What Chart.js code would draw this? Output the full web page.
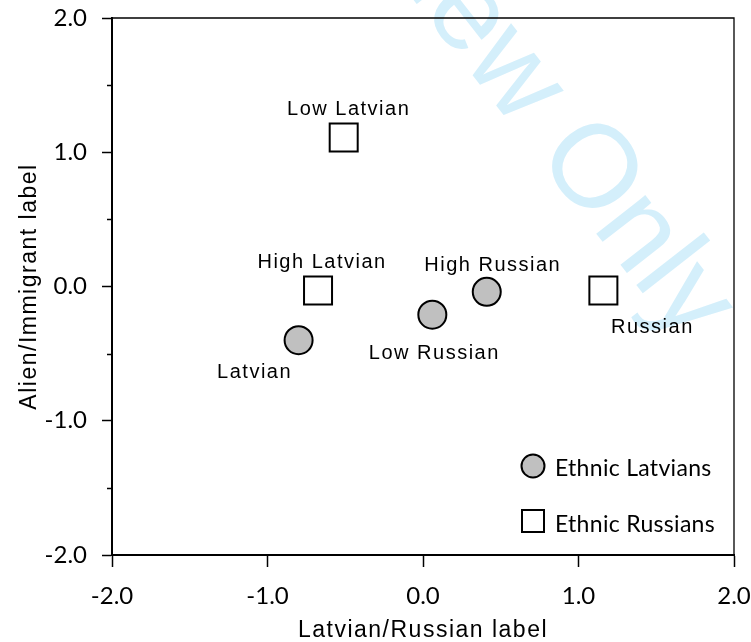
<!DOCTYPE html>
<html>
<head>
<meta charset="utf-8">
<script src="https://cdn.jsdelivr.net/npm/chart.js@4"></script>
<style>
  html, body { margin: 0; padding: 0; background: #fff; }
  canvas { display: block; }
</style>
</head>
<body>
<canvas id="chart" width="751" height="642"></canvas>
<script>
// ── Data ──
const seriesNames = ["Ethnic Latvians", "Ethnic Russians"];

// ethnic Latvian respondents (grey circles)
const latvianNames = ["Latvian", "Low Russian", "High Russian"];
const latvianX = [-0.80, 0.06, 0.41];
const latvianY = [-0.40, -0.21, -0.04];

// ethnic Russian respondents (open squares)
const russianNames = ["Low Latvian", "High Latvian", "Russian"];
const russianX = [-0.51, -0.675, 1.16];
const russianY = [1.11, -0.03, -0.03];

const axisMin = -2, axisMax = 2;
const xTitle = "Latvian/Russian label";
const yTitle = "Alien/Immigrant label";
const watermark = "For Peer Review Only";

// label placement relative to marker (px), kept apart from the data
const latvianLabelOffset = [[-44, 38], [2, 44], [6, -21]];
const russianLabelOffset = [[5, -22], [4, -23], [49, 42]];

const LABEL_FONT = "20px 'Liberation Sans', Arial, sans-serif";
const TICK_FONT = { family: "Lato, 'Open Sans', sans-serif", size: 24 };

const toPoints = (xs, ys) => xs.map((x, i) => ({ x, y: ys[i] }));

// ── Plugins ──
const watermarkPlugin = {
  id: "watermark",
  beforeDraw(chart) {
    const c = chart.ctx;
    c.save();
    c.translate(684, 346);
    c.rotate((52 * Math.PI) / 180);
    c.font = "118px 'Liberation Sans', Arial, sans-serif";
    c.fillStyle = "#d4effb";
    c.textAlign = "right";
    c.textBaseline = "alphabetic";
    c.letterSpacing = "0px";
    c.fillText(watermark, 0, 0);
    c.restore();
    // axis titles (drawn with the grid layer) use a slightly tracked font
    c.letterSpacing = "1.5px";
  },
};

const framePlugin = {
  id: "frame",
  beforeDatasetsDraw(chart) {
    const { ctx: c, chartArea: a } = chart;
    const y = chart.scales.y;
    // tick labels are drawn later (z: 1) without tracking
    c.letterSpacing = "0px";
    c.save();
    c.strokeStyle = "#000";
    c.lineWidth = 1.3;
    c.beginPath();
    c.moveTo(a.left, a.top);
    c.lineTo(a.right, a.top);
    c.lineTo(a.right, a.bottom);
    c.stroke();
    // minor ticks on the y axis
    c.lineWidth = 1.5;
    y.ticks.forEach((t) => {
      if (Math.abs(t.value % 1) < 1e-9) return;
      const py = Math.round(y.getPixelForValue(t.value)) + 0.5;
      c.beginPath();
      c.moveTo(a.left - 5, py);
      c.lineTo(a.left, py);
      c.stroke();
    });
    c.restore();
  },
};

const labelPlugin = {
  id: "pointLabels",
  afterDatasetsDraw(chart) {
    const c = chart.ctx;
    const groups = [
      [latvianNames, latvianLabelOffset],
      [russianNames, russianLabelOffset],
    ];
    c.save();
    c.font = LABEL_FONT;
    c.fillStyle = "#000";
    c.textAlign = "center";
    c.textBaseline = "alphabetic";
    c.letterSpacing = "1.5px";
    groups.forEach(([names, offs], di) => {
      chart.getDatasetMeta(di).data.forEach((pt, i) => {
        c.fillText(names[i], pt.x + offs[i][0], pt.y + offs[i][1]);
      });
    });

    // legend, bottom right inside the plot
    const a = chart.chartArea;
    const lx = a.right - 201;
    const rows = [a.bottom - 89, a.bottom - 34];
    c.lineWidth = 2;
    c.strokeStyle = "#000";
    c.fillStyle = "#c0c0c0";
    c.beginPath();
    c.arc(lx, rows[0], 11.5, 0, Math.PI * 2);
    c.fill();
    c.stroke();
    c.fillStyle = "#fff";
    c.fillRect(lx - 11, rows[1] - 11, 22, 22);
    c.strokeRect(lx - 11, rows[1] - 11, 22, 22);
    c.fillStyle = "#000";
    c.font = "23px Lato, 'Open Sans', sans-serif";
    c.textAlign = "left";
    c.textBaseline = "alphabetic";
    c.letterSpacing = "0.3px";
    c.fillText(seriesNames[0], lx + 22, rows[0] + 10);
    c.fillText(seriesNames[1], lx + 22, rows[1] + 11);
    c.restore();
  },
};

// ── Chart ──
const ctx = document.getElementById("chart").getContext("2d");

new Chart(ctx, {
  type: "scatter",
  data: {
    datasets: [
      {
        label: seriesNames[0],
        data: toPoints(latvianX, latvianY),
        pointStyle: "circle",
        pointRadius: 14,
        pointHoverRadius: 14,
        backgroundColor: "#c0c0c0",
        borderColor: "#000",
        borderWidth: 2,
      },
      {
        label: seriesNames[1],
        data: toPoints(russianX, russianY),
        pointStyle: "rect",
        pointRadius: 19.8,
        pointHoverRadius: 19.8,
        backgroundColor: "#fff",
        borderColor: "#000",
        borderWidth: 2,
      },
    ],
  },
  options: {
    responsive: false,
    animation: false,
    layout: { autoPadding: false, padding: { top: 18, right: 17, left: 0, bottom: 0 } },
    plugins: {
      legend: { display: false },
      tooltip: { enabled: false },
    },
    scales: {
      x: {
        type: "linear",
        min: axisMin,
        max: axisMax,
        afterFit: (s) => {
          s.height = 87;
          s.paddingLeft = 0;
          s.paddingRight = 0;
        },
        border: { color: "#000", width: 2 },
        grid: { drawOnChartArea: false, tickLength: 12, tickColor: "#000", tickWidth: 1.5 },
        ticks: {
          z: 1,
          stepSize: 1,
          padding: 15,
          color: "#000",
          font: TICK_FONT,
          callback: (v) => v.toFixed(1),
        },
        title: {
          display: true,
          text: xTitle,
          color: "#000",
          font: { family: "'Liberation Sans', Arial, sans-serif", size: 23, lineHeight: 1 },
          padding: { top: 0, bottom: 0 },
        },
      },
      y: {
        type: "linear",
        min: axisMin,
        max: axisMax,
        afterFit: (s) => {
          s.width = 112;
          s.paddingTop = 0;
          s.paddingBottom = 0;
        },
        border: { color: "#000", width: 2 },
        grid: {
          drawOnChartArea: false,
          tickLength: 10,
          tickWidth: 1.5,
          tickColor: (c) => (Math.abs(c.tick.value % 1) < 1e-9 ? "#000" : "rgba(0,0,0,0)"),
        },
        ticks: {
          z: 1,
          stepSize: 0.5,
          autoSkip: false,
          padding: 15,
          color: "#000",
          font: TICK_FONT,
          callback: (v) => (Math.abs(v % 1) < 1e-9 ? v.toFixed(1) : ""),
        },
        title: {
          display: true,
          text: yTitle,
          color: "#000",
          font: { family: "'Liberation Sans', Arial, sans-serif", size: 23, lineHeight: 1.2 },
          padding: { top: 16, bottom: 0 },
        },
      },
    },
  },
  plugins: [watermarkPlugin, framePlugin, labelPlugin],
});
</script>
</body>
</html>
